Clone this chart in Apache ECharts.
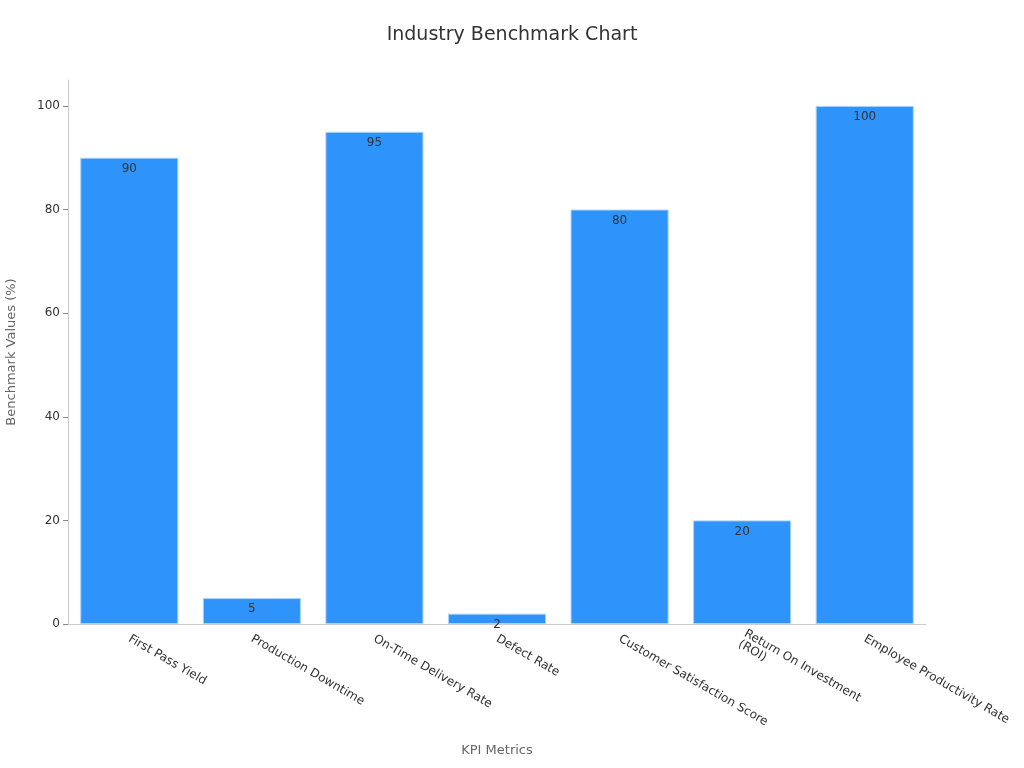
<!DOCTYPE html>
<html>
<head>
<meta charset="utf-8">
<script src="https://cdn.jsdelivr.net/npm/echarts@6/dist/echarts.min.js"></script>
<style>
html, body { margin: 0; padding: 0; background: #fff; }
#chart { width: 1024px; height: 768px; }
</style>
</head>
<body>
<div id="chart"></div>
<script>
var categories = ['First Pass Yield', 'Production Downtime', 'On-Time Delivery Rate', 'Defect Rate',
    'Customer Satisfaction Score', 'Return On Investment\n(ROI)', 'Employee Productivity Rate'];
var values = [90, 5, 95, 2, 80, 20, 100];
var yTicks = [0, 20, 40, 60, 80, 100];

var myChart = echarts.init(document.getElementById('chart'));
var font = 'DejaVu Sans';

var option = {
    animation: false,
    textStyle: { fontFamily: font },
    title: {
        text: 'Industry Benchmark Chart',
        left: 'center',
        top: 21,
        textStyle: { fontSize: 19, fontWeight: 'normal', color: '#333', fontFamily: font }
    },
    grid: { left: 68, right: 98, top: 80, bottom: 144, containLabel: false, outerBoundsMode: 'none' },
    xAxis: {
        type: 'category',
        data: categories,
        name: 'KPI Metrics',
        nameLocation: 'middle',
        nameGap: 120,
        nameTextStyle: { fontSize: 13, color: '#666' },
        axisLine: { lineStyle: { color: '#ccc' } },
        axisTick: { alignWithLabel: true, length: 5, lineStyle: { color: '#888' } },
        axisLabel: { rotate: -30, fontSize: 12, color: '#333', interval: 0, margin: 14 }
    },
    yAxis: {
        type: 'value',
        min: 0,
        max: 105,
        name: 'Benchmark Values (%)',
        nameLocation: 'middle',
        nameGap: 50,
        nameTextStyle: { fontSize: 13, color: '#666' },
        splitLine: { show: false },
        axisLine: { show: true, lineStyle: { color: '#ccc' } },
        axisTick: { show: true, length: 5, customValues: yTicks, lineStyle: { color: '#888' } },
        axisLabel: { customValues: yTicks, fontSize: 12, color: '#333', margin: 8 }
    },
    series: [{
        type: 'bar',
        data: values,
        barWidth: '80%',
        itemStyle: { color: '#2e93fa', borderColor: '#a9d3fb', borderWidth: 1 },
        label: {
            show: true,
            position: 'insideTop',
            fontSize: 12,
            color: '#333',
            distance: 5
        }
    }]
};
myChart.setOption(option);
</script>
</body>
</html>
